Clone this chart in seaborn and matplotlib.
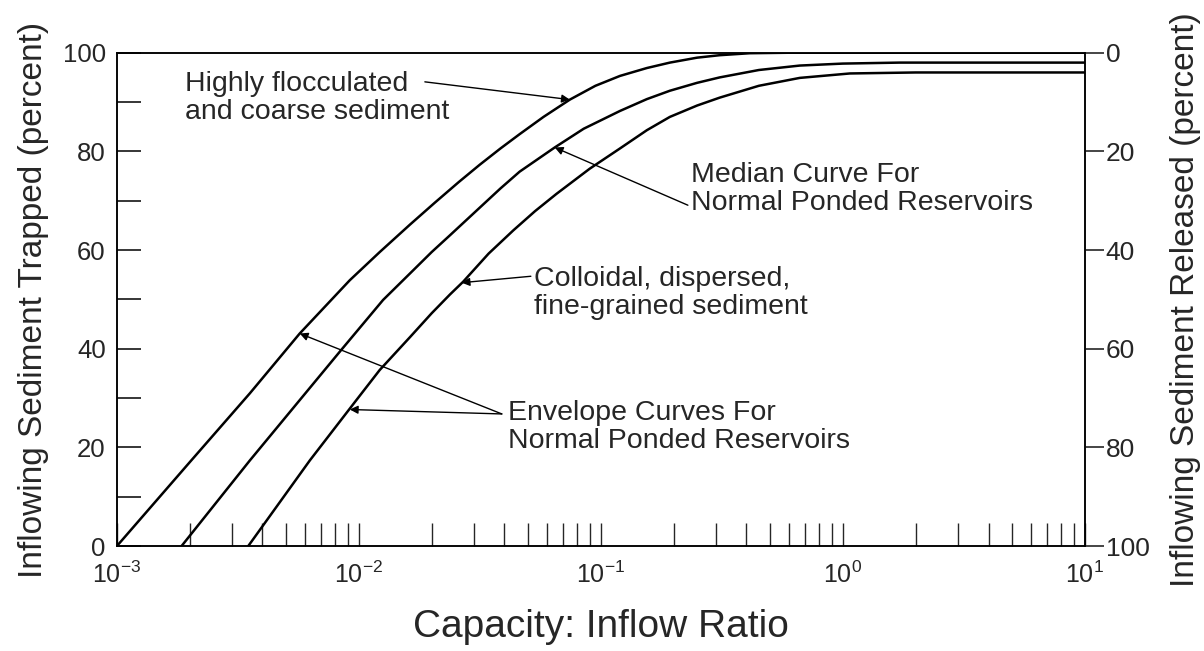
import matplotlib
matplotlib.use("Agg")
import matplotlib.pyplot as plt
import matplotlib.ticker as mticker
import seaborn as sns

# Brune trap-efficiency curves
# x = capacity:inflow ratio, y = inflowing sediment trapped (percent)
ratio_upper = [0.001, 0.002, 0.00355, 0.0057, 0.00918, 0.0122, 0.0163, 0.0206,
               0.0259, 0.0316, 0.0385, 0.0462, 0.058, 0.0745, 0.095, 0.12,
               0.155, 0.193, 0.25, 0.31, 0.413, 0.6, 10]
trap_upper = [0, 17.0, 31.0, 43.1, 53.9, 59.6, 65.2, 69.6,
              73.8, 77.3, 80.6, 83.5, 87.0, 90.5, 93.3, 95.3,
              96.9, 98.0, 99.0, 99.5, 99.9, 100, 100]

ratio_median = [0.00185, 0.00355, 0.0057, 0.00834, 0.0126, 0.0163, 0.0200,
                0.0238, 0.0316, 0.0385, 0.0462, 0.0645, 0.085, 0.12, 0.155,
                0.193, 0.25, 0.31, 0.45, 0.664, 1.0, 1.72, 10]
trap_median = [0, 17.4, 29.6, 39.4, 49.9, 55.3, 59.6,
               63.0, 68.6, 72.5, 75.9, 80.8, 84.6, 88.2, 90.6,
               92.3, 93.9, 95.0, 96.5, 97.4, 97.8, 98.0, 98.0]

ratio_lower = [0.00349, 0.00628, 0.00977, 0.0122, 0.0163, 0.0200, 0.0238,
               0.027, 0.0344, 0.0435, 0.0535, 0.0656, 0.09, 0.12, 0.155,
               0.193, 0.25, 0.31, 0.45, 0.664, 1.07, 2.0, 10]
trap_lower = [0, 17.4, 29.6, 35.7, 42.4, 47.2, 51.0,
              53.6, 59.3, 64.0, 67.9, 71.4, 76.5, 80.6, 84.3,
              87.0, 89.3, 90.9, 93.3, 94.9, 95.8, 96.0, 96.0]

left_ticks = [0, 20, 40, 60, 80, 100]
right_ticks = [0, 20, 40, 60, 80, 100]

label_upper = "Highly flocculated\nand coarse sediment"
label_median = "Median Curve For\nNormal Ponded Reservoirs"
label_lower = "Colloidal, dispersed,\nfine-grained sediment"
label_envelope = "Envelope Curves For\nNormal Ponded Reservoirs"

sns.set_style("ticks")
plt.rcParams['font.family'] = ['Liberation Sans', 'DejaVu Sans']
plt.rcParams['axes.linewidth'] = 1.1
plt.rcParams['axes.edgecolor'] = 'black'

fig, ax = plt.subplots(figsize=(12.04, 6.51), dpi=100)
fig.subplots_adjust(left=0.097, right=0.901, bottom=0.161, top=0.919)

for xs, ys in [(ratio_upper, trap_upper), (ratio_median, trap_median), (ratio_lower, trap_lower)]:
    sns.lineplot(x=xs, y=ys, ax=ax, color='black', lw=1.8, sort=False)

ax.set_xscale('log')
ax.set_xlim(1e-3, 10)
ax.set_ylim(0, 100)

ax.xaxis.set_major_locator(mticker.LogLocator(base=10))
ax.xaxis.set_minor_locator(mticker.LogLocator(base=10, subs=range(2, 10)))
ax.xaxis.set_minor_formatter(mticker.NullFormatter())
ax.tick_params(axis='x', which='both', direction='in', length=16.5, width=1.0,
               labelsize=18, pad=11, top=False)

ax.yaxis.set_major_locator(mticker.FixedLocator(left_ticks))
ax.yaxis.set_minor_locator(mticker.MultipleLocator(10))
ax.tick_params(axis='y', which='both', direction='in', length=17, width=1.3,
               labelsize=18.5, pad=8, right=False)

ax2 = ax.twinx()
ax2.set_ylim(100, 0)
ax2.yaxis.set_major_locator(mticker.FixedLocator(right_ticks))
ax2.tick_params(axis='y', direction='out', length=14, width=1.2, labelsize=19, pad=1)

ax.set_xlabel("Capacity: Inflow Ratio", fontsize=28, labelpad=15)
ax.set_ylabel("Inflowing Sediment Trapped (percent)", fontsize=24, labelpad=10)
ax2.set_ylabel("Inflowing Sediment Released (percent)", fontsize=24, labelpad=15)

arrow = dict(arrowstyle='-|>', color='black', lw=1.0, mutation_scale=12,
             shrinkA=0, shrinkB=0)
txt = dict(ha='left', va='center', fontsize=20.5, linespacing=1.1)

ax.text(0.00191, 90.9, label_upper, **txt)
ax.annotate("", xy=(0.0745, 90.5), xytext=(0.01875, 94.1), arrowprops=arrow)

ax.text(0.2355, 72.3, label_median, **txt)
ax.annotate("", xy=(0.0645, 80.8), xytext=(0.229, 69.1), arrowprops=arrow)

ax.text(0.0528, 51.3, label_lower, **txt)
ax.annotate("", xy=(0.0266, 53.4), xytext=(0.0514, 54.7), arrowprops=arrow)

ax.text(0.0413, 24.2, label_envelope, **txt)
ax.annotate("", xy=(0.0057, 43.1), xytext=(0.039, 26.8), arrowprops=arrow)
ax.annotate("", xy=(0.00918, 27.7), xytext=(0.039, 26.8), arrowprops=arrow)

fig.savefig("out.png", dpi=100)
